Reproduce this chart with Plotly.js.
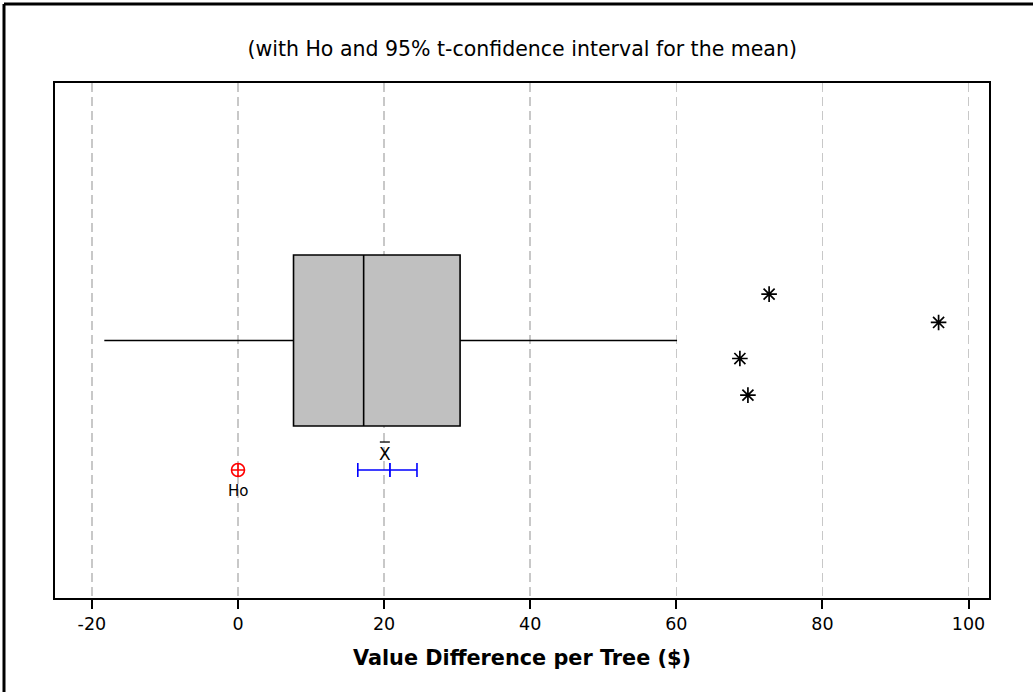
<!DOCTYPE html>
<html>
<head>
<meta charset="utf-8">
<script src="https://cdn.plot.ly/plotly-3.0.1.min.js"></script>
<style>html,body{margin:0;padding:0;background:#fff;}#chart{width:1033px;height:692px;}</style>
</head>
<body>
<div id="chart"></div>
<script>
// Box-plot summary (Value Difference per Tree, $)
const boxLabel = ["Value Difference"];
const q1 = [7.6];
const median = [17.2];
const q3 = [30.4];
const lowerWhisker = [-18.3];
const upperWhisker = [60.1];
// Outliers and their vertical jitter
const outlierValues = [72.7, 95.9, 68.7, 69.8];
const outlierJitter = [0.590, 0.535, 0.465, 0.394];
// Hypothesised mean and 95% t-confidence interval
const hoValue = [0];
const sampleMean = [20.8];
const ciLower = [16.4];
const ciUpper = [24.5];
const tickValues = [-20, 0, 20, 40, 60, 80, 100];

const ciLevel = 0.2485;
const font = "DejaVu Sans, Verdana, sans-serif";

const traces = [
  {
    type: "box", orientation: "h", name: boxLabel[0],
    y: [0.5], q1: q1, median: median, q3: q3,
    lowerfence: lowerWhisker, upperfence: upperWhisker,
    width: 0.332, whiskerwidth: 0,
    fillcolor: "#c0c0c0", line: {color: "#000", width: 1.6},
    boxpoints: false, hoverinfo: "x"
  },
  {
    type: "scatter", mode: "markers", x: outlierValues, y: outlierJitter,
    marker: {symbol: "asterisk-open", size: 13, color: "#000", line: {color: "#000", width: 1.7}},
    showlegend: false
  },
  {
    type: "scatter", mode: "markers", x: hoValue, y: hoValue.map(() => ciLevel),
    marker: {symbol: "circle-cross-open", size: 13, color: "#ff0000", line: {color: "#ff0000", width: 1.6}},
    showlegend: false
  },
  {
    type: "scatter", mode: "markers", x: sampleMean, y: sampleMean.map(() => ciLevel),
    marker: {symbol: "line-ns-open", size: 10, color: "#0000ff", line: {color: "#0000ff", width: 1.8}},
    error_x: {type: "data", symmetric: false,
      array: sampleMean.map((m, i) => ciUpper[i] - m),
      arrayminus: sampleMean.map((m, i) => m - ciLower[i]),
      color: "#0000ff", thickness: 1.6, width: 7},
    showlegend: false
  }
];

const layout = {
  width: 1033, height: 692,
  margin: {l: 55, r: 44, t: 83, b: 94},
  paper_bgcolor: "#fff", plot_bgcolor: "#fff",
  showlegend: false,
  font: {family: font, color: "#000", size: 18},
  title: {text: "(with Ho and 95% t-confidence interval for the mean)",
    x: 0.5055, xanchor: "center", y: 0.93, yanchor: "middle",
    font: {family: font, size: 20.5, color: "#000"}},
  xaxis: {
    range: [-25.05, 102.8], tickvals: tickValues, ticktext: tickValues.map(String),
    ticks: "outside", ticklen: 9, tickwidth: 2, tickcolor: "#000",
    showline: true, linecolor: "#000", linewidth: 2, mirror: true,
    showgrid: true, gridcolor: "#c8c8c8", gridwidth: 1.5, griddash: "9px,5px",
    zeroline: false, tickfont: {family: font, size: 17.5, color: "#000"},
    title: {text: "<b>Value Difference per Tree ($)</b>", standoff: 17,
      font: {family: font, size: 20.8, color: "#000"}}
  },
  yaxis: {
    range: [0, 1], showticklabels: false, ticks: "", showgrid: false, zeroline: false,
    showline: true, linecolor: "#000", linewidth: 2, mirror: true
  },
  annotations: [
    {x: hoValue[0], y: ciLevel, xref: "x", yref: "y", text: "Ho", showarrow: false,
     yshift: -21, font: {family: font, size: 15, color: "#000"}},
    {x: 20.1, y: ciLevel, xref: "x", yref: "y", text: "X", showarrow: false,
     yshift: 16, font: {family: font, size: 17, color: "#000"}}
  ],
  shapes: [
    {type: "line", xref: "x", yref: "y", xsizemode: "pixel", ysizemode: "pixel",
     xanchor: 20.1, yanchor: ciLevel, x0: -5, x1: 5, y0: 28, y1: 28,
     line: {color: "#000", width: 1.3}},
    {type: "line", xref: "paper", yref: "paper", x0: -0.0546, x1: -0.0546, y0: -0.3, y1: 1.1535,
     line: {color: "#000", width: 3}},
    {type: "line", xref: "paper", yref: "paper", x0: -0.0546, x1: 1.2, y0: 1.1535, y1: 1.1535,
     line: {color: "#000", width: 3}}
  ]
};

Plotly.newPlot("chart", traces, layout, {displayModeBar: false, staticPlot: true});
</script>
</body>
</html>
